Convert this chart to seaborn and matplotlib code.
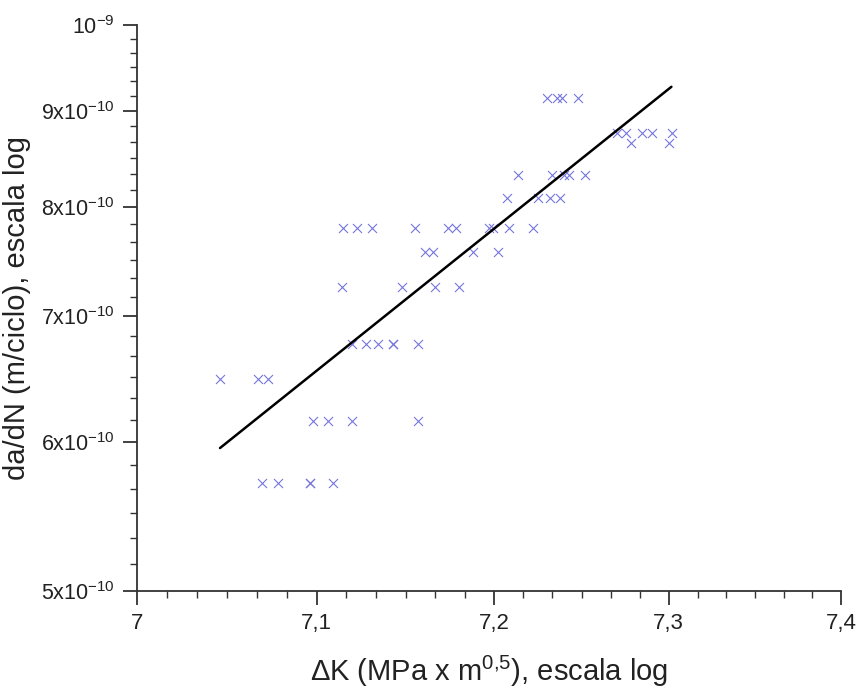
import numpy as np
import pandas as pd
import matplotlib
matplotlib.use("Agg")
import matplotlib.pyplot as plt
import seaborn as sns
from matplotlib.ticker import FixedLocator, NullFormatter

# ---- data ----
levels = [9.145e-10, 8.76e-10, 8.655e-10, 8.32e-10, 8.09e-10, 7.80e-10,
          7.57e-10, 7.26e-10, 6.77e-10, 6.48e-10, 6.16e-10, 5.71e-10]
dk_rows = [
    [7.230, 7.236, 7.239, 7.248],
    [7.2705, 7.2756, 7.2847, 7.2903, 7.3017],
    [7.2784, 7.300],
    [7.2136, 7.233, 7.240, 7.243, 7.2517],
    [7.2074, 7.225, 7.2318, 7.2375],
    [7.1147, 7.1226, 7.1311, 7.1554, 7.174, 7.1785, 7.1972, 7.1994, 7.2085, 7.2222],
    [7.161, 7.1655, 7.1881, 7.2023],
    [7.1141, 7.148, 7.1667, 7.1802],
    [7.1198, 7.1277, 7.1345, 7.143, 7.143, 7.1571],
    [7.0461, 7.0672, 7.0728],
    [7.0978, 7.1062, 7.1198, 7.1571],
    [7.0694, 7.0783, 7.0961, 7.0961, 7.1090],
]
fit_dk = [7.046, 7.3016]
fit_dadn = [5.957e-10, 9.272e-10]

xticks = [7.0, 7.1, 7.2, 7.3, 7.4]
xticklabels = ["7", "7,1", "7,2", "7,3", "7,4"]
yticks = [5e-10, 6e-10, 7e-10, 8e-10, 9e-10, 1e-9]
yticklabels = [r"5x10$^{-10}$", r"6x10$^{-10}$", r"7x10$^{-10}$",
               r"8x10$^{-10}$", r"9x10$^{-10}$", r"10$^{-9}$"]
xlabel = r"ΔK (MPa x m$^{0{,}5}$), escala log"
ylabel = "da/dN (m/ciclo), escala log"

# ---- style ----
sns.set_style("ticks")
plt.rcParams["font.family"] = ["Liberation Sans", "DejaVu Sans"]
plt.rcParams["mathtext.fontset"] = "custom"
plt.rcParams["mathtext.rm"] = "Liberation Sans"
plt.rcParams["mathtext.it"] = "Liberation Sans:italic"
plt.rcParams["mathtext.bf"] = "Liberation Sans:bold"

df = pd.DataFrame({
    "dK": [v for row in dk_rows for v in row],
    "dadN": [lv for lv, row in zip(levels, dk_rows) for _ in row],
})
fit = pd.DataFrame({"dK": fit_dk, "dadN": fit_dadn})

fig = plt.figure(figsize=(8.62, 6.91), dpi=100)
ax = fig.add_axes([0.159, 0.1447, 0.8166, 0.819])

sns.scatterplot(data=df, x="dK", y="dadN", marker="x", color="#7676dc",
                s=42, linewidth=0.8, legend=False, ax=ax, zorder=3)
sns.lineplot(data=fit, x="dK", y="dadN", color="black", linewidth=1.8,
             ax=ax, zorder=4)

ax.set_xscale("log")
ax.set_yscale("log")
ax.set_xlim(7.0, 7.4)
ax.set_ylim(5e-10, 1e-9)

ax.xaxis.set_major_locator(FixedLocator(xticks))
ax.set_xticklabels(xticklabels)
ax.yaxis.set_major_locator(FixedLocator(yticks))
ax.set_yticklabels(yticklabels)

xminor = []
for a, b in zip(xticks[:-1], xticks[1:]):
    xminor += [a + (b - a) * k / 6 for k in range(1, 6)]
yminor = []
for a, b in zip(yticks[:-1], yticks[1:]):
    yminor += [a + (b - a) * k / 6 for k in range(1, 6)]
ax.xaxis.set_minor_locator(FixedLocator(xminor))
ax.yaxis.set_minor_locator(FixedLocator(yminor))
ax.xaxis.set_minor_formatter(NullFormatter())
ax.yaxis.set_minor_formatter(NullFormatter())

for s in ["top", "right"]:
    ax.spines[s].set_visible(False)
for s in ["left", "bottom"]:
    ax.spines[s].set_linewidth(1.3)
    ax.spines[s].set_color("#333333")

ax.tick_params(axis="both", which="major", direction="out", length=10,
               width=1.3, color="#333333")
ax.tick_params(axis="both", which="minor", direction="out", length=5,
               width=1.0, color="#333333")
ax.tick_params(axis="x", which="major", labelsize=16, pad=6)
ax.tick_params(axis="y", which="major", labelsize=15.5, pad=6)

ax.set_xlabel(xlabel, fontsize=21, labelpad=14, color="#222222")
ax.set_ylabel(ylabel, fontsize=21, labelpad=7, color="#222222")
for lab in ax.get_xticklabels() + ax.get_yticklabels():
    lab.set_color("#222222")

fig.savefig("out.png", dpi=100)
